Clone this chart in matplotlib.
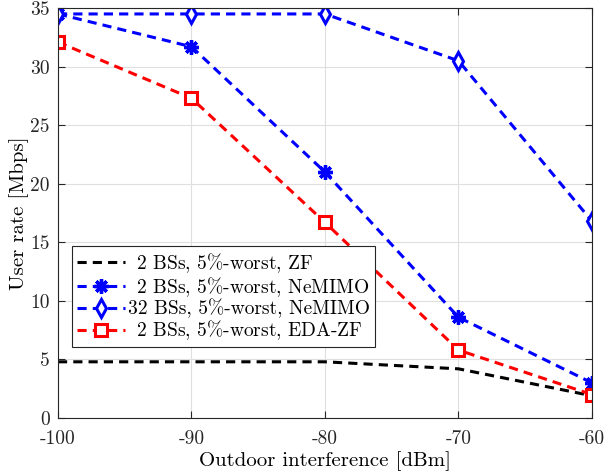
import matplotlib
matplotlib.use("Agg")
import matplotlib.pyplot as plt
import numpy as np

plt.rcParams["font.family"] = "serif"
plt.rcParams["font.serif"] = ["cmr10"]
plt.rcParams["mathtext.fontset"] = "cm"
plt.rcParams["axes.unicode_minus"] = False
plt.rcParams["axes.formatter.use_mathtext"] = False

interference = [-100, -90, -80, -70, -60]
zf_2bs = [4.8, 4.8, 4.8, 4.2, 1.9]
nemimo_2bs = [34.5, 31.7, 21.0, 8.6, 3.0]
nemimo_32bs = [34.5, 34.5, 34.5, 30.5, 16.8]
edazf_2bs = [32.1, 27.3, 16.7, 5.8, 2.0]

# \enspace keeps the "2 BSs" labels aligned with "32 BSs" like the original
labels = [
    r"$\enspace$2 BSs, 5%-worst, ZF",
    r"$\enspace$2 BSs, 5%-worst, NeMIMO",
    "32 BSs, 5%-worst, NeMIMO",
    r"$\enspace$2 BSs, 5%-worst, EDA-ZF",
]

fig = plt.figure(figsize=(6.15, 4.76), dpi=100)
ax = fig.add_axes([0.0943, 0.1218, 0.8683, 0.8612])

dash = (0, (3.0, 2.0))
lw = 2.2
ax.plot(interference, zf_2bs, color="black", linestyle=dash, linewidth=lw, label=labels[0])
ax.plot(interference, nemimo_2bs, color="blue", linestyle=dash, linewidth=lw,
        marker=(8, 2, 0), markersize=10.5, markeredgewidth=2.4, label=labels[1])
ax.plot(interference, nemimo_32bs, color="blue", linestyle=dash, linewidth=lw,
        marker="d", markersize=9, markerfacecolor="white", markeredgewidth=2.2,
        label=labels[2])
ax.plot(interference, edazf_2bs, color="red", linestyle=dash, linewidth=lw,
        marker="s", markersize=9, markerfacecolor="white", markeredgewidth=2.2,
        label=labels[3])

ax.set_xlim(-100, -60)
ax.set_ylim(0, 35)
ax.set_xticks(np.arange(-100, -59, 10))
ax.set_yticks(np.arange(0, 36, 5))
ax.grid(True, color="#dfdfdf", linewidth=0.8)
ax.set_axisbelow(True)
ax.tick_params(direction="in", length=5, labelsize=14, top=True, right=True,
               colors="#262626")
ax.tick_params(axis="x", pad=9)
ax.tick_params(axis="y", pad=6)
for s in ax.spines.values():
    s.set_color("#262626")
    s.set_linewidth(0.8)
ax.set_xlabel("Outdoor interference [dBm]", fontsize=15, labelpad=2)
ax.set_ylabel("User rate [Mbps]", fontsize=15, labelpad=1)

leg = ax.legend(loc="lower left", bbox_to_anchor=(0.026, 0.173), borderaxespad=0,
                fontsize=14, frameon=True, fancybox=False, edgecolor="#262626",
                framealpha=1, handlelength=2.5, borderpad=0.25, labelspacing=0.0,
                handletextpad=0.15)
leg.get_frame().set_linewidth(0.8)

fig.savefig("out.png", dpi=100)
